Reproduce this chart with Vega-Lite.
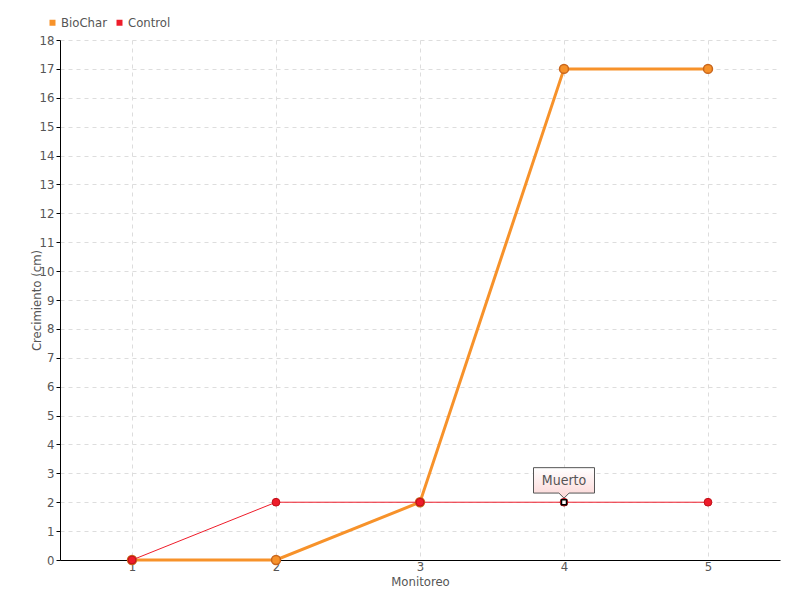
{
  "$schema": "https://vega.github.io/schema/vega-lite/v6.json",
  "width": 720,
  "height": 520,
  "autosize": {"type": "none"},
  "padding": {"left": 60, "top": 40, "right": 20, "bottom": 40},
  "background": "white",
  "config": {
    "view": {"stroke": null},
    "font": "DejaVu Sans Condensed",
    "axis": {
      "labelFont": "DejaVu Sans Condensed",
      "labelFontSize": 13,
      "labelColor": "#555",
      "titleFont": "DejaVu Sans Condensed",
      "titleFontSize": 13,
      "titleFontWeight": "normal",
      "titleColor": "#555",
      "domainColor": "#000",
      "domainWidth": 1,
      "tickColor": "#000",
      "gridColor": "#ddd",
      "gridDash": [4, 4],
      "gridWidth": 1
    }
  },
  "data": {
    "values": [
      {"monitoreo": 1, "serie": "BioChar", "crecimiento": 0},
      {"monitoreo": 2, "serie": "BioChar", "crecimiento": 0},
      {"monitoreo": 3, "serie": "BioChar", "crecimiento": 2},
      {"monitoreo": 4, "serie": "BioChar", "crecimiento": 17},
      {"monitoreo": 5, "serie": "BioChar", "crecimiento": 17},
      {"monitoreo": 1, "serie": "Control", "crecimiento": 0},
      {"monitoreo": 2, "serie": "Control", "crecimiento": 2},
      {"monitoreo": 3, "serie": "Control", "crecimiento": 2},
      {"monitoreo": 4, "serie": "Control", "crecimiento": 2, "nota": "Muerto"},
      {"monitoreo": 5, "serie": "Control", "crecimiento": 2}
    ]
  },
  "encoding": {
    "x": {
      "field": "monitoreo",
      "type": "quantitative",
      "scale": {"domain": [0.5, 5.5], "nice": false, "zero": false},
      "axis": {
        "values": [1, 2, 3, 4, 5],
        "title": "Monitoreo",
        "ticks": false,
        "labelPadding": 0,
        "titlePadding": 2,
        "grid": true
      }
    },
    "y": {
      "field": "crecimiento",
      "type": "quantitative",
      "scale": {"domain": [0, 18], "nice": false},
      "axis": {
        "values": [0,1,2,3,4,5,6,7,8,9,10,11,12,13,14,15,16,17,18],
        "title": "Crecimiento (cm)",
        "tickSize": 4,
        "labelPadding": 2,
        "titlePadding": -4,
        "grid": true
      }
    },
    "color": {
      "field": "serie",
      "type": "nominal",
      "scale": {"domain": ["BioChar", "Control"], "range": ["#f7922a", "#ee1c2a"]},
      "legend": {
        "title": null,
        "orient": "none",
        "legendX": -14,
        "legendY": -24,
        "direction": "horizontal",
        "symbolType": "square",
        "symbolSize": 36,
        "symbolStrokeWidth": 0,
        "labelFont": "DejaVu Sans Condensed",
        "labelFontSize": 13,
        "labelColor": "#555",
        "labelOffset": 2,
        "columnPadding": 6
      }
    }
  },
  "layer": [
    {
      "transform": [{"filter": "datum.serie === 'BioChar'"}],
      "mark": {"type": "line", "strokeWidth": 3}
    },
    {
      "transform": [{"filter": "datum.serie === 'BioChar'"}],
      "mark": {"type": "point", "filled": true, "size": 80, "stroke": "#c9661c", "strokeWidth": 1.5, "opacity": 1}
    },
    {
      "transform": [{"filter": "datum.serie === 'Control'"}],
      "mark": {"type": "line", "strokeWidth": 1}
    },
    {
      "transform": [{"filter": "datum.serie === 'Control'"}],
      "mark": {"type": "point", "filled": true, "size": 60, "stroke": "#c01018", "strokeWidth": 1, "opacity": 1}
    },
    {
      "transform": [{"filter": "datum.nota"}],
      "mark": {
        "type": "point",
        "shape": "M-1,-1.133H1V-0.3H0.167L0,-0.133L-0.167,-0.3H-1Z",
        "size": 3721,
        "filled": true,
        "fill": {"gradient": "linear", "x1": 0, "y1": 0, "x2": 0, "y2": 1, "stops": [{"offset": 0, "color": "#ffffff"}, {"offset": 1, "color": "#fcd6d6"}]},
        "stroke": "#555",
        "strokeWidth": 1,
        "opacity": 1
      },
      "encoding": {"color": {"value": "#fff"}}
    },
    {
      "transform": [{"filter": "datum.nota"}],
      "mark": {"type": "text", "dy": -21, "fontSize": 14, "font": "DejaVu Sans Condensed", "fill": "#555"},
      "encoding": {"text": {"field": "nota"}, "color": {"value": "#555"}}
    },
    {
      "transform": [{"filter": "datum.nota"}],
      "mark": {"type": "point", "shape": "square", "filled": true, "size": 25, "fill": "#fff", "stroke": "#000", "strokeWidth": 1.5, "opacity": 1},
      "encoding": {"color": {"value": "#fff"}}
    }
  ]
}
